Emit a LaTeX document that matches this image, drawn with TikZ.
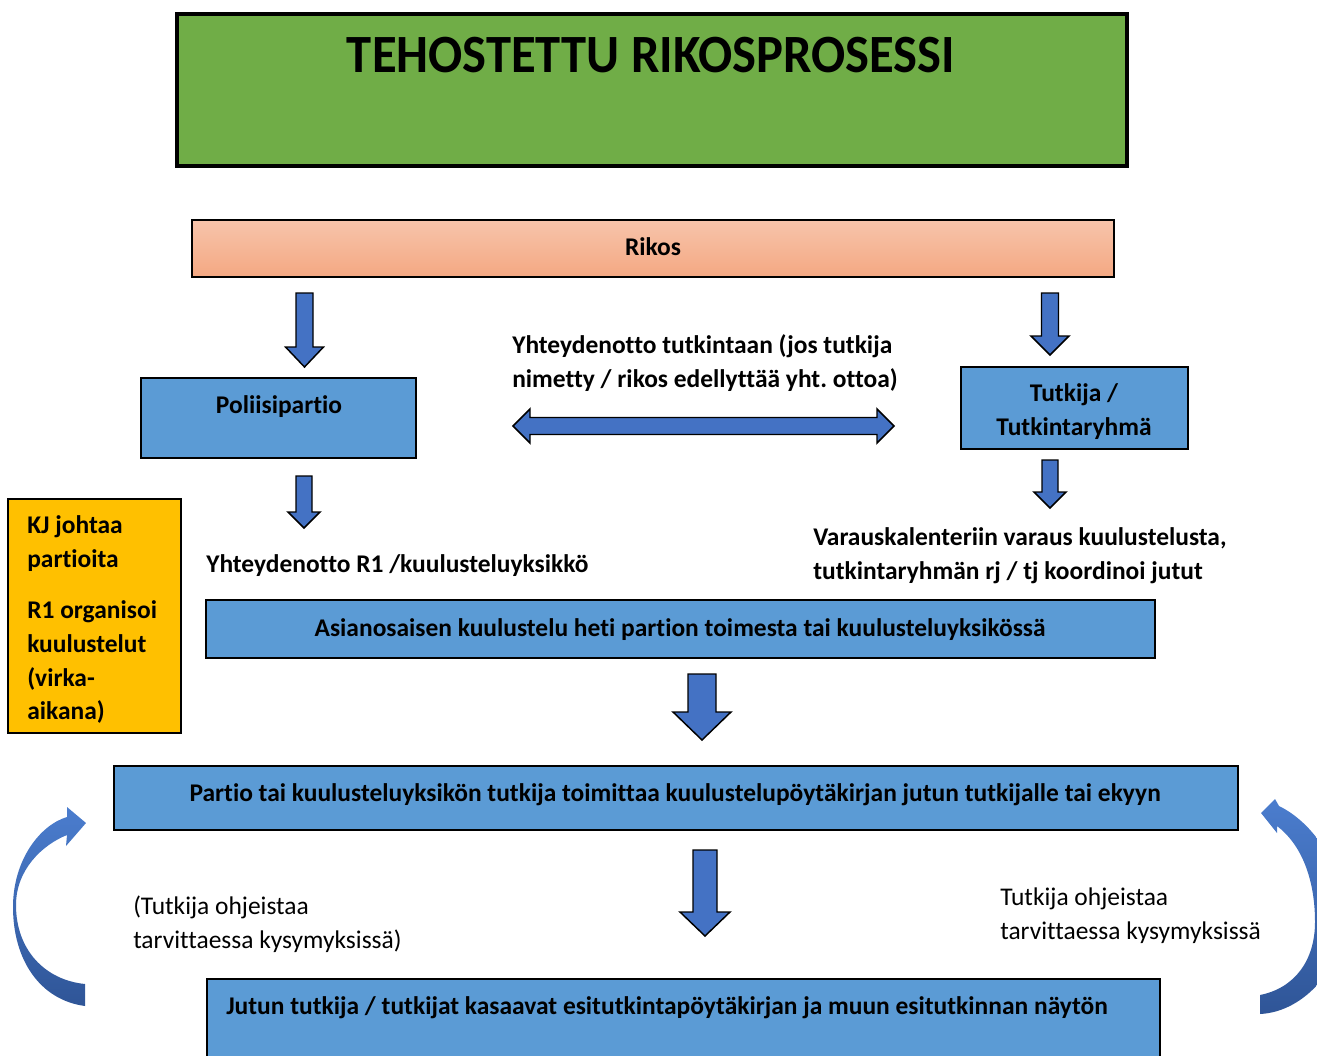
\documentclass[tikz,border=0pt]{standalone}
\usepackage{fontspec}
\setmainfont{Carlito}[Ligatures={NoCommon}]
\usetikzlibrary{fit}
\frenchspacing
\definecolor{titlegreen}{HTML}{70AD47}
\definecolor{boxblue}{HTML}{5B9BD5}
\definecolor{arrowblue}{HTML}{4472C4}
\definecolor{boxyellow}{HTML}{FFC000}
\definecolor{salmontop}{HTML}{F7C4AB}
\definecolor{salmonbot}{HTML}{F4A882}
\definecolor{curvetop}{HTML}{4B7DCE}
\definecolor{curvebot}{HTML}{2F5597}
\tikzset{
  box/.style={draw=black, line width=2pt, inner sep=0pt},
  barrow/.style={fill=arrowblue, draw=black, line width=1.1pt, line join=miter},
  curvearrow/.style={top color=curvetop, bottom color=curvebot, draw=none},
  lbl/.style={inner sep=0pt, font=\fontsize{19.1}{25.3}\selectfont\bfseries},
  lblr/.style={inner sep=0pt, font=\fontsize{19.1}{25.3}\selectfont},
}
\newcommand\blockdown[6]{%
  \filldraw[barrow] (#1-#4,#2) -- (#1+#4,#2) -- (#1+#4,#3-#6) -- (#1+#5,#3-#6)
    -- (#1,#3) -- (#1-#5,#3-#6) -- (#1-#4,#3-#6) -- cycle;}
\begin{document}
\begin{tikzpicture}[x=0.75pt,y=-0.75pt]
\useasboundingbox (0,0) rectangle (1317,1056);
\clip (0,0) rectangle (1317,1056);

% title
\node[box, fill=titlegreen, line width=2.3pt, fit={(177,14) (1127,166)}] (title) {};
\node[inner sep=0pt, anchor=base] (titletext) at (651,73)
  {\resizebox{456pt}{26.5pt}{\bfseries TEHOSTETTU RIKOSPROSESSI}};

% Rikos
\node[box, top color=salmontop, bottom color=salmonbot, fit={(192,220) (1114,277)}] (rikos) {};
\node[lbl, anchor=base] (rikostext) at (653,255) {Rikos};

% arrows from Rikos
\blockdown{304.5}{293}{367}{8.5}{19}{20}
\blockdown{1050}{293}{355}{8.5}{19}{19}

% Poliisipartio
\node[box, fill=boxblue, fit={(141,378) (416,458)}] (poli) {};
\node[lbl, anchor=base] (politext) at (279,413) {Poliisipartio};

% Tutkija
\node[box, fill=boxblue, fit={(961,367) (1188,449)}] (tutk) {};
\node[lbl, anchor=north, align=center] (tutktext) at (1074,378)
  {\strut Tutkija /\\\strut Tutkintaryhmä};

% middle text and double arrow
\node[lbl, anchor=north west, align=left] (yht) at (512,330)
  {\strut Yhteydenotto tutkintaan (jos tutkija\\\strut nimetty / rikos edellyttää yht. ottoa)};
\filldraw[barrow] (513,426) -- (530,409) -- (530,417.5) -- (877,417.5) -- (877,409)
  -- (894,426) -- (877,443) -- (877,434.5) -- (530,434.5) -- (530,443) -- cycle;

% second row arrows
\blockdown{304}{476}{528}{8}{16}{16}
\blockdown{1050}{460}{508}{8}{16}{16}

\node[lbl, anchor=base west] (r1) at (206,572) {Yhteydenotto R1 /kuulusteluyksikkö};
\node[lbl, anchor=north west, align=left] (varaus) at (813,522)
  {\strut Varauskalenteriin varaus kuulustelusta,\\\strut tutkintaryhmän rj / tj koordinoi jutut};

% yellow box
\node[box, fill=boxyellow, fit={(8,499) (181,733)}] (kj) {};
\node[lbl, anchor=north west, align=left] (kjtext) at (27,510)
  {\strut KJ johtaa\\\strut partioita\\[13pt]\strut R1 organisoi\\\strut kuulustelut\\\strut (virka-\\\strut aikana)};

% Asianosaisen
\node[box, fill=boxblue, fit={(206,600) (1155,658)}] (asian) {};
\node[lbl, anchor=base] (asiantext) at (680,636)
  {Asianosaisen kuulustelu heti partion toimesta tai kuulusteluyksikössä};

\blockdown{702}{674}{740}{14}{29}{28}

% Partio
\node[box, fill=boxblue, fit={(114,766) (1238,830)}] (partio) {};
\node[lbl, anchor=base] (partiotext) at (675,801)
  {Partio tai kuulusteluyksikön tutkija toimittaa kuulustelupöytäkirjan jutun tutkijalle tai ekyyn};

\blockdown{705}{850}{936}{12}{25}{24}

% side texts
\node[lblr, anchor=north west, align=left] (ohjl) at (133,891)
  {\strut(Tutkija ohjeistaa\\\strut tarvittaessa kysymyksissä)};
\node[lblr, anchor=north west, align=left] (ohjr) at (1000,882)
  {\strut Tutkija ohjeistaa\\\strut tarvittaessa kysymyksissä};

% bottom box
\node[box, fill=boxblue, fit={(207,979) (1160,1075)}] (jutun) {};
\node[lbl, anchor=base west] (jutuntext) at (226,1014)
  {Jutun tutkija / tutkijat kasaavat esitutkintapöytäkirjan ja muun esitutkinnan näytön};

% curved arrows
\path[curvearrow] (85,1006) .. controls (40,1000) and (13,960) .. (13,907)
  .. controls (13,860) and (40,825) .. (67,817) -- (67,807) -- (86,823) -- (66,846)
  -- (67,835) .. controls (42,845) and (16,870) .. (16,905)
  .. controls (16,950) and (45,980) .. (85,984) -- cycle;
\path[curvearrow] (1261,813) -- (1275,799) -- (1279,806)
  .. controls (1318,825) and (1345,875) .. (1345,915)
  .. controls (1345,965) and (1305,1012) .. (1260,1014) -- (1260,995)
  .. controls (1295,988) and (1315,960) .. (1315,922)
  .. controls (1315,880) and (1302,845) .. (1277,826) -- (1277,833) -- cycle;
\end{tikzpicture}
\end{document}
